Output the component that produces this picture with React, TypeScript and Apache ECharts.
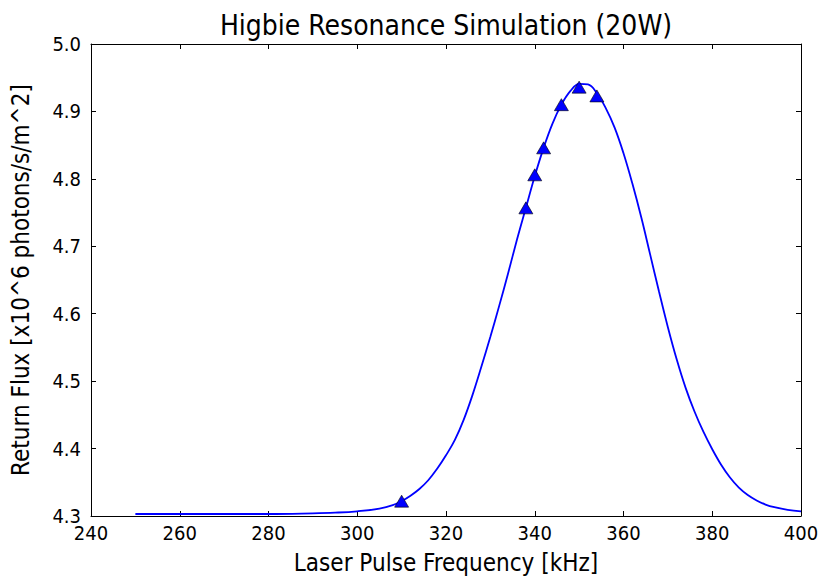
import React, { useEffect, useRef } from "react";
import * as echarts from "echarts";

// Simulated curve
const curveX = [250, 260, 270, 280, 290, 295, 300, 305, 308, 310, 312, 314, 316, 318, 320, 322, 324, 326, 328, 330, 332, 334, 336, 338, 340, 342, 344, 346, 348, 350, 352, 354, 356, 358, 360, 362, 364, 366, 368, 370, 372, 374, 376, 378, 380, 382, 384, 386, 388, 390, 392, 394, 397, 400];
const curveY = [4.303, 4.303, 4.303, 4.303, 4.304, 4.305, 4.307, 4.311, 4.316, 4.322, 4.330, 4.340, 4.353, 4.370, 4.390, 4.413, 4.443, 4.480, 4.522, 4.566, 4.612, 4.660, 4.710, 4.757, 4.804, 4.846, 4.882, 4.910, 4.930, 4.941, 4.940, 4.927, 4.905, 4.876, 4.838, 4.793, 4.743, 4.688, 4.633, 4.580, 4.532, 4.490, 4.455, 4.425, 4.399, 4.376, 4.357, 4.342, 4.331, 4.323, 4.317, 4.313, 4.309, 4.307];

// Measured points (triangles)
const measX = [310, 338, 340, 342, 346, 350, 354];
const measY = [4.322, 4.757, 4.806, 4.846, 4.910, 4.936, 4.923];

const xTicks = { min: 240, max: 400, interval: 20 };
const yTicks = { min: 4.3, max: 5.0, interval: 0.1 };

const titleText = "Higbie Resonance Simulation (20W)";
const xName = "Laser Pulse Frequency [kHz]";
const yName = "Return Flux [x10^6 photons/s/m^2]";

const FONT = "'DejaVu Sans Condensed', 'DejaVu Sans'";

export default function App() {
  const ref = useRef<HTMLDivElement>(null);
  useEffect(() => {
    document.body.style.margin = "0";
    if (!ref.current) return;
    const chart = echarts.init(ref.current, undefined, { renderer: "svg" });
    const axisCommon = {
      type: "value" as const,
      axisLine: { show: true, onZero: false, lineStyle: { color: "#000", width: 1 } },
      axisTick: { show: true, inside: true, length: 5, lineStyle: { color: "#000" } },
      splitLine: { show: false },
    };
    chart.setOption({
      animation: false,
      backgroundColor: "#fff",
      title: {
        text: titleText,
        left: 441,
        textAlign: "center",
        top: 6,
        textStyle: { fontFamily: FONT, fontSize: 28, fontWeight: "normal", color: "#000" },
      },
      grid: { left: 91, right: 21, top: 44, bottom: 61, containLabel: false, outerBoundsMode: "none" },
      xAxis: [
        {
          ...axisCommon,
          position: "bottom",
          min: xTicks.min,
          max: xTicks.max,
          interval: xTicks.interval,
          name: xName,
          nameLocation: "middle",
          nameGap: 35,
          nameTextStyle: { fontFamily: FONT, fontSize: 24, color: "#000" },
          axisLabel: { fontFamily: FONT, fontSize: 20, color: "#000", margin: 7 },
        },
        {
          ...axisCommon,
          position: "top",
          min: xTicks.min,
          max: xTicks.max,
          interval: xTicks.interval,
          axisLabel: { show: false },
        },
      ],
      yAxis: [
        {
          ...axisCommon,
          position: "left",
          min: yTicks.min,
          max: yTicks.max,
          interval: yTicks.interval,
          name: yName,
          nameLocation: "middle",
          nameRotate: 90,
          nameGap: 58,
          nameTextStyle: { fontFamily: FONT, fontSize: 24, color: "#000" },
          axisLabel: {
            fontFamily: FONT,
            fontSize: 20,
            color: "#000",
            margin: 10,
            formatter: (v: number) => v.toFixed(1),
          },
        },
        {
          ...axisCommon,
          position: "right",
          min: yTicks.min,
          max: yTicks.max,
          interval: yTicks.interval,
          axisLabel: { show: false },
        },
      ],
      series: [
        {
          type: "line",
          data: curveX.map((x, i) => [x, curveY[i]]),
          smooth: 0.4,
          showSymbol: false,
          symbol: "none",
          lineStyle: { color: "#0000ff", width: 1.8 },
          z: 2,
        },
        {
          type: "scatter",
          data: measX.map((x, i) => [x, measY[i]]),
          symbol: "triangle",
          symbolSize: [14, 12],
          itemStyle: { color: "#0000ff", opacity: 1, borderColor: "#000", borderWidth: 0.6 },
          z: 3,
        },
      ],
    });
    return () => chart.dispose();
  }, []);
  return <div ref={ref} style={{ width: 822, height: 577 }} />;
}
